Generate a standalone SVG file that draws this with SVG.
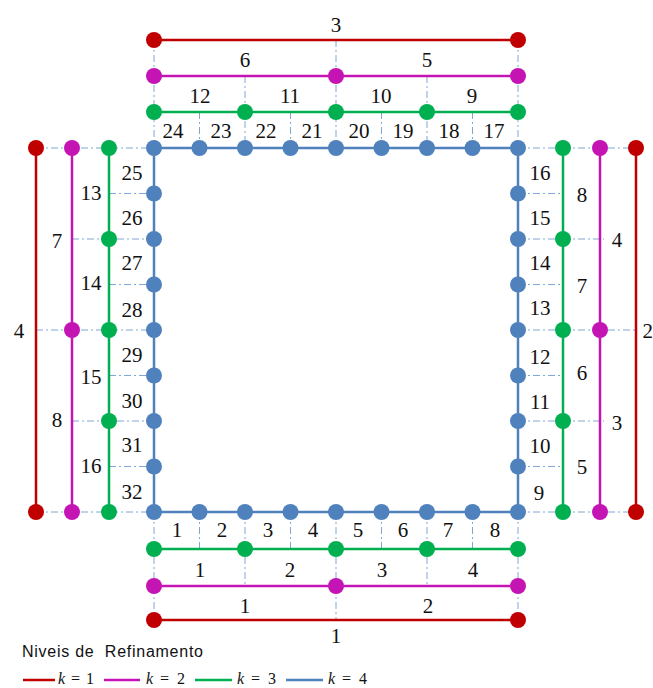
<svg xmlns="http://www.w3.org/2000/svg" width="653" height="688" viewBox="0 0 653 688">
<style>
.bg{fill:#ffffff}
.guide{stroke:#7fa6d4;stroke-width:1;stroke-dasharray:7 3 2 3;fill:none}
.l1{stroke:#c00000;stroke-width:2.5;fill:none}
.l2{stroke:#c415b4;stroke-width:2.5;fill:none}
.l3{stroke:#00b050;stroke-width:2.5;fill:none}
.l4{stroke:#4f81bd;stroke-width:2.5;fill:none}
.n1{fill:#c00000}
.n2{fill:#c415b4}
.n3{fill:#00b050}
.n4{fill:#4f81bd}
.lab{font-family:"Liberation Serif","Times New Roman",serif;font-size:21px;fill:#111;text-anchor:middle}
.leg{font-family:"Liberation Sans",Arial,sans-serif;font-size:16px;fill:#111;white-space:pre}
.eq{font-family:"Liberation Serif","Times New Roman",serif;font-size:16px;fill:#111}
</style>
<rect class="bg" x="0" y="0" width="653" height="688"/>
<g id="guides">
<path class="guide" d="M154,40V148M336,40V148M518,40V148M245,76V148M427,76V148M199.5,112V148M290.5,112V148M381.5,112V148M472.5,112V148"/>
<path class="guide" d="M154,512V620M336,512V620M518,512V620M245,512V586M427,512V586M199.5,512V549M290.5,512V549M381.5,512V549M472.5,512V549"/>
<path class="guide" d="M36,148H154M36,512H154M36,330H154M72,239H154M72,421H154M109,193.5H154M109,284.5H154M109,375.5H154M109,466.5H154"/>
<path class="guide" d="M518,148H636M518,512H636M518,330H636M518,239H604M518,421H604M518,193.5H563M518,284.5H563M518,375.5H563M518,466.5H563"/>
</g>
<g id="connectors">
<path class="l1" d="M154,40H518M154,620H518M36,148V512M636,148V512"/>
<path class="l2" d="M154,76H518M154,586H518M72,148V512M600,148V512"/>
<path class="l3" d="M154,112H518M154,549H518M109,148V512M563,148V512"/>
<path class="l4" d="M154,148H518V512H154Z"/>
</g>
<g id="nodes">
<g id="r-t1"><circle class="n1" cx="154" cy="40" r="8"/></g>
<g id="r-t2"><circle class="n1" cx="518" cy="40" r="8"/></g>
<g id="r-b1"><circle class="n1" cx="154" cy="620" r="8"/></g>
<g id="r-b2"><circle class="n1" cx="518" cy="620" r="8"/></g>
<g id="r-l1"><circle class="n1" cx="36" cy="148" r="8"/></g>
<g id="r-l2"><circle class="n1" cx="36" cy="512" r="8"/></g>
<g id="r-r1"><circle class="n1" cx="636" cy="148" r="8"/></g>
<g id="r-r2"><circle class="n1" cx="636" cy="512" r="8"/></g>
<g id="m-t1"><circle class="n2" cx="154" cy="76" r="8"/></g>
<g id="m-t2"><circle class="n2" cx="336" cy="76" r="8"/></g>
<g id="m-t3"><circle class="n2" cx="518" cy="76" r="8"/></g>
<g id="m-b1"><circle class="n2" cx="154" cy="586" r="8"/></g>
<g id="m-b2"><circle class="n2" cx="336" cy="586" r="8"/></g>
<g id="m-b3"><circle class="n2" cx="518" cy="586" r="8"/></g>
<g id="m-l1"><circle class="n2" cx="72" cy="148" r="8"/></g>
<g id="m-l2"><circle class="n2" cx="72" cy="330" r="8"/></g>
<g id="m-l3"><circle class="n2" cx="72" cy="512" r="8"/></g>
<g id="m-r1"><circle class="n2" cx="600" cy="148" r="8"/></g>
<g id="m-r2"><circle class="n2" cx="600" cy="330" r="8"/></g>
<g id="m-r3"><circle class="n2" cx="600" cy="512" r="8"/></g>
<g id="g-t1"><circle class="n3" cx="154" cy="112" r="8"/></g>
<g id="g-t2"><circle class="n3" cx="245" cy="112" r="8"/></g>
<g id="g-t3"><circle class="n3" cx="336" cy="112" r="8"/></g>
<g id="g-t4"><circle class="n3" cx="427" cy="112" r="8"/></g>
<g id="g-t5"><circle class="n3" cx="518" cy="112" r="8"/></g>
<g id="g-b1"><circle class="n3" cx="154" cy="549" r="8"/></g>
<g id="g-b2"><circle class="n3" cx="245" cy="549" r="8"/></g>
<g id="g-b3"><circle class="n3" cx="336" cy="549" r="8"/></g>
<g id="g-b4"><circle class="n3" cx="427" cy="549" r="8"/></g>
<g id="g-b5"><circle class="n3" cx="518" cy="549" r="8"/></g>
<g id="g-l1"><circle class="n3" cx="109" cy="148" r="8"/></g>
<g id="g-l2"><circle class="n3" cx="109" cy="239" r="8"/></g>
<g id="g-l3"><circle class="n3" cx="109" cy="330" r="8"/></g>
<g id="g-l4"><circle class="n3" cx="109" cy="421" r="8"/></g>
<g id="g-l5"><circle class="n3" cx="109" cy="512" r="8"/></g>
<g id="g-r1"><circle class="n3" cx="563" cy="148" r="8"/></g>
<g id="g-r2"><circle class="n3" cx="563" cy="239" r="8"/></g>
<g id="g-r3"><circle class="n3" cx="563" cy="330" r="8"/></g>
<g id="g-r4"><circle class="n3" cx="563" cy="421" r="8"/></g>
<g id="g-r5"><circle class="n3" cx="563" cy="512" r="8"/></g>
<g id="b-tl"><circle class="n4" cx="154" cy="148" r="8"/></g>
<g id="b-t1"><circle class="n4" cx="199.5" cy="148" r="8"/></g>
<g id="b-t2"><circle class="n4" cx="245" cy="148" r="8"/></g>
<g id="b-t3"><circle class="n4" cx="290.5" cy="148" r="8"/></g>
<g id="b-t4"><circle class="n4" cx="336" cy="148" r="8"/></g>
<g id="b-t5"><circle class="n4" cx="381.5" cy="148" r="8"/></g>
<g id="b-t6"><circle class="n4" cx="427" cy="148" r="8"/></g>
<g id="b-t7"><circle class="n4" cx="472.5" cy="148" r="8"/></g>
<g id="b-tr"><circle class="n4" cx="518" cy="148" r="8"/></g>
<g id="b-r1"><circle class="n4" cx="518" cy="193.5" r="8"/></g>
<g id="b-r2"><circle class="n4" cx="518" cy="239" r="8"/></g>
<g id="b-r3"><circle class="n4" cx="518" cy="284.5" r="8"/></g>
<g id="b-r4"><circle class="n4" cx="518" cy="330" r="8"/></g>
<g id="b-r5"><circle class="n4" cx="518" cy="375.5" r="8"/></g>
<g id="b-r6"><circle class="n4" cx="518" cy="421" r="8"/></g>
<g id="b-r7"><circle class="n4" cx="518" cy="466.5" r="8"/></g>
<g id="b-br"><circle class="n4" cx="518" cy="512" r="8"/></g>
<g id="b-b7"><circle class="n4" cx="472.5" cy="512" r="8"/></g>
<g id="b-b6"><circle class="n4" cx="427" cy="512" r="8"/></g>
<g id="b-b5"><circle class="n4" cx="381.5" cy="512" r="8"/></g>
<g id="b-b4"><circle class="n4" cx="336" cy="512" r="8"/></g>
<g id="b-b3"><circle class="n4" cx="290.5" cy="512" r="8"/></g>
<g id="b-b2"><circle class="n4" cx="245" cy="512" r="8"/></g>
<g id="b-b1"><circle class="n4" cx="199.5" cy="512" r="8"/></g>
<g id="b-bl"><circle class="n4" cx="154" cy="512" r="8"/></g>
<g id="b-l7"><circle class="n4" cx="154" cy="466.5" r="8"/></g>
<g id="b-l6"><circle class="n4" cx="154" cy="421" r="8"/></g>
<g id="b-l5"><circle class="n4" cx="154" cy="375.5" r="8"/></g>
<g id="b-l4"><circle class="n4" cx="154" cy="330" r="8"/></g>
<g id="b-l3"><circle class="n4" cx="154" cy="284.5" r="8"/></g>
<g id="b-l2"><circle class="n4" cx="154" cy="239" r="8"/></g>
<g id="b-l1"><circle class="n4" cx="154" cy="193.5" r="8"/></g>
</g>
<g id="labels" class="lab">
<text x="336" y="32">3</text>
<text x="245" y="67">6</text>
<text x="427" y="67">5</text>
<text x="200" y="103">12</text>
<text x="290" y="103">11</text>
<text x="381" y="103">10</text>
<text x="472" y="103">9</text>
<text x="173" y="138">24</text>
<text x="221" y="138">23</text>
<text x="266" y="138">22</text>
<text x="312" y="138">21</text>
<text x="359" y="138">20</text>
<text x="403" y="138">19</text>
<text x="449" y="138">18</text>
<text x="494" y="138">17</text>
<text x="132" y="180">25</text>
<text x="132" y="225">26</text>
<text x="132" y="270">27</text>
<text x="132" y="317">28</text>
<text x="132" y="362">29</text>
<text x="132" y="408">30</text>
<text x="132" y="452">31</text>
<text x="132" y="499">32</text>
<text x="91" y="200">13</text>
<text x="91" y="290">14</text>
<text x="91" y="384">15</text>
<text x="91" y="473">16</text>
<text x="57" y="248">7</text>
<text x="57" y="427">8</text>
<text x="19" y="338">4</text>
<text x="540" y="180">16</text>
<text x="540" y="225">15</text>
<text x="540" y="270">14</text>
<text x="540" y="315">13</text>
<text x="540" y="364">12</text>
<text x="540" y="409">11</text>
<text x="540" y="453">10</text>
<text x="539" y="500">9</text>
<text x="582" y="202">8</text>
<text x="582" y="293">7</text>
<text x="582" y="380">6</text>
<text x="582" y="474">5</text>
<text x="617" y="247">4</text>
<text x="617" y="430">3</text>
<text x="653" y="338" style="text-anchor:end">2</text>
<text x="177" y="537">1</text>
<text x="222" y="537">2</text>
<text x="268" y="537">3</text>
<text x="313" y="537">4</text>
<text x="358" y="537">5</text>
<text x="403" y="537">6</text>
<text x="448" y="537">7</text>
<text x="495" y="537">8</text>
<text x="200" y="577">1</text>
<text x="290" y="577">2</text>
<text x="382" y="577">3</text>
<text x="473" y="577">4</text>
<text x="245" y="613">1</text>
<text x="428" y="613">2</text>
<text x="336" y="643">1</text>
</g>
<g id="legend">
<text class="leg" x="22" y="657" textLength="181" lengthAdjust="spacing">Niveis de  Refinamento</text>
<line class="l1" x1="23" y1="680" x2="55" y2="680" stroke-width="2"/>
<line class="l2" x1="104" y1="680" x2="140" y2="680" stroke-width="2"/>
<line class="l3" x1="195" y1="680" x2="232" y2="680" stroke-width="2"/>
<line class="l4" x1="286" y1="680" x2="323" y2="680" stroke-width="2"/>
<text class="eq" x="58" y="684"><tspan font-style="italic">k</tspan><tspan x="71">=</tspan><tspan x="86">1</tspan></text>
<text class="eq" x="146" y="684"><tspan font-style="italic">k</tspan><tspan x="160">=</tspan><tspan x="177">2</tspan></text>
<text class="eq" x="237" y="684"><tspan font-style="italic">k</tspan><tspan x="251">=</tspan><tspan x="268">3</tspan></text>
<text class="eq" x="328" y="684"><tspan font-style="italic">k</tspan><tspan x="342">=</tspan><tspan x="359">4</tspan></text>
</g>
</svg>
